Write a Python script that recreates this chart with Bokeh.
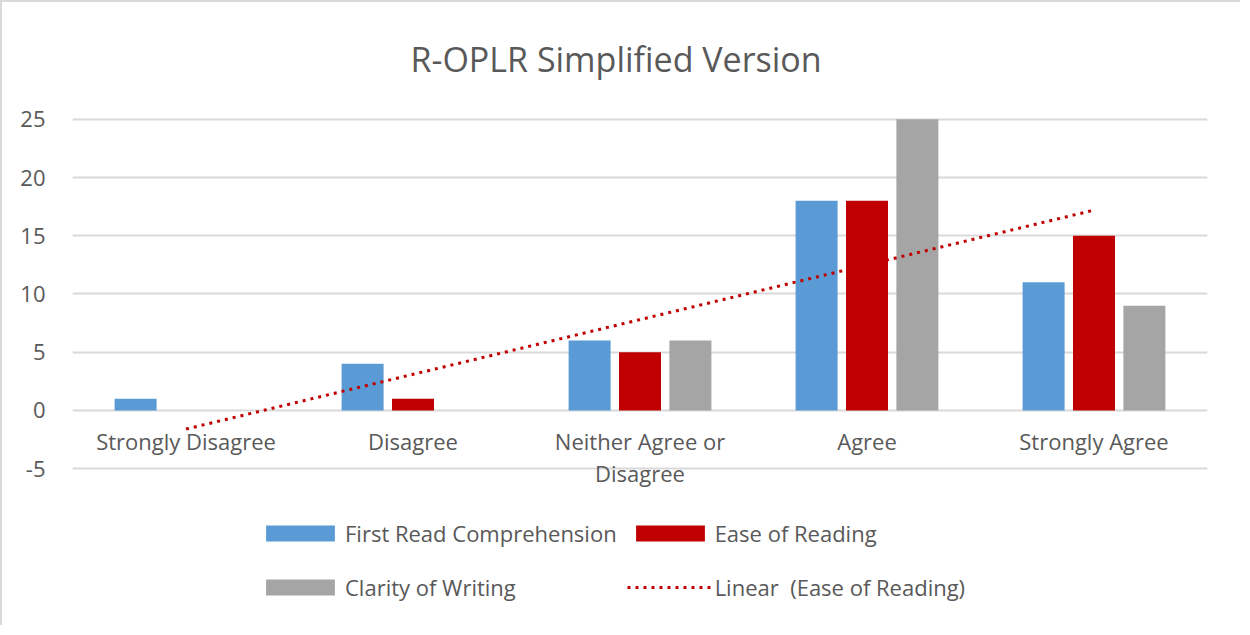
import numpy as np
from bokeh.plotting import figure
from bokeh.models import (ColumnDataSource, FactorRange, Range1d, FixedTicker,
                          Legend, LegendItem, Title)
from bokeh.transform import dodge
from bokeh.core.properties import value
from bokeh.embed import file_html
from bokeh.resources import INLINE

title_text = "R-OPLR Simplified Version"
categories = ["Strongly Disagree", "Disagree", "Neither Agree or Disagree",
              "Agree", "Strongly Agree"]
cat_labels = ["Strongly Disagree", "Disagree", "Neither Agree or\nDisagree",
              "Agree", "Strongly Agree"]
first_read = [1, 4, 6, 18, 11]
ease_reading = [0, 1, 5, 18, 15]
clarity = [0, 0, 6, 25, 9]
y_ticks = [-5, 0, 5, 10, 15, 20, 25]
series_names = ["First Read Comprehension", "Ease of Reading",
                "Clarity of Writing", "Linear  (Ease of Reading)"]

# Linear trendline of Ease of Reading (least squares over category index)
idx = np.arange(1, len(categories) + 1)
slope, intercept = np.polyfit(idx, ease_reading, 1)
trend = list(slope * idx + intercept)

FONT = "Open Sans"
TXT = "#595959"
BLUE, RED, GRAY = "#5b9bd5", "#c00000", "#a5a5a5"

src = ColumnDataSource(dict(cat=categories, label=cat_labels, first=first_read,
                            ease=ease_reading, clar=clarity, trend=trend,
                            zero=[0] * len(categories)))

p = figure(x_range=FactorRange(*categories), y_range=Range1d(-18.47, 25.5),
           width=1240, height=625, output_backend="svg", toolbar_location=None,
           min_border_left=70, min_border_right=35, min_border_top=111,
           min_border_bottom=2)
p.styles = {"border-left": "2px solid #d9d9d9", "border-top": "2px solid #d9d9d9"}
p.outline_line_color = None
p.background_fill_color = "white"
p.border_fill_color = "white"

t = Title(text=title_text, align="left", offset=338,
          text_font=FONT, text_font_size="34px", text_font_style="normal",
          text_color=TXT, standoff=63)
p.add_layout(t, "above")

p.xaxis.visible = False
p.xgrid.visible = False
p.yaxis.ticker = FixedTicker(ticks=y_ticks)
p.yaxis.major_label_overrides = {tk: str(tk) for tk in y_ticks}
p.yaxis.axis_line_color = None
p.yaxis.major_tick_line_color = None
p.yaxis.minor_tick_line_color = None
p.yaxis.major_label_text_font = FONT
p.yaxis.major_label_text_font_size = "22px"
p.yaxis.major_label_text_color = TXT
p.yaxis.major_label_standoff = 21
p.ygrid.ticker = FixedTicker(ticks=y_ticks)
p.ygrid.grid_line_color = "#d9d9d9"
p.ygrid.grid_line_width = 2

bw = 0.185
off = 0.222
r_blue = p.vbar(x=dodge("cat", -off, range=p.x_range), top="first", width=bw,
                source=src, fill_color=BLUE, line_color=None)
r_gray = p.vbar(x=dodge("cat", off, range=p.x_range), top="clar", width=bw,
                source=src, fill_color=GRAY, line_color=None)
r_line = p.line(x="cat", y="trend", source=src, line_color=RED, line_width=3,
                line_dash="3 5")
r_red = p.vbar(x="cat", top="ease", width=bw, source=src, fill_color=RED,
               line_color=None)

p.text(x="cat", y="zero", text="label", source=src, text_font=value(FONT),
       text_font_size="22px", text_color=TXT, text_align="center",
       text_baseline="top", y_offset=16, text_line_height=1.05)

legend = Legend(items=[
    LegendItem(label=series_names[0], renderers=[r_blue]),
    LegendItem(label=series_names[1], renderers=[r_red]),
    LegendItem(label=series_names[2], renderers=[r_gray]),
    LegendItem(label=series_names[3], renderers=[r_line]),
], orientation="horizontal", ncols=2, location=(185, 16),
    label_text_font=FONT, label_text_font_size="22px", label_text_color=TXT,
    glyph_width=86, glyph_height=20, label_height=44, label_standoff=2,
    spacing=10, padding=0, margin=0, border_line_color=None,
    background_fill_alpha=0)
p.add_layout(legend, "center")

open("out.html", "w").write(file_html(p, INLINE))
